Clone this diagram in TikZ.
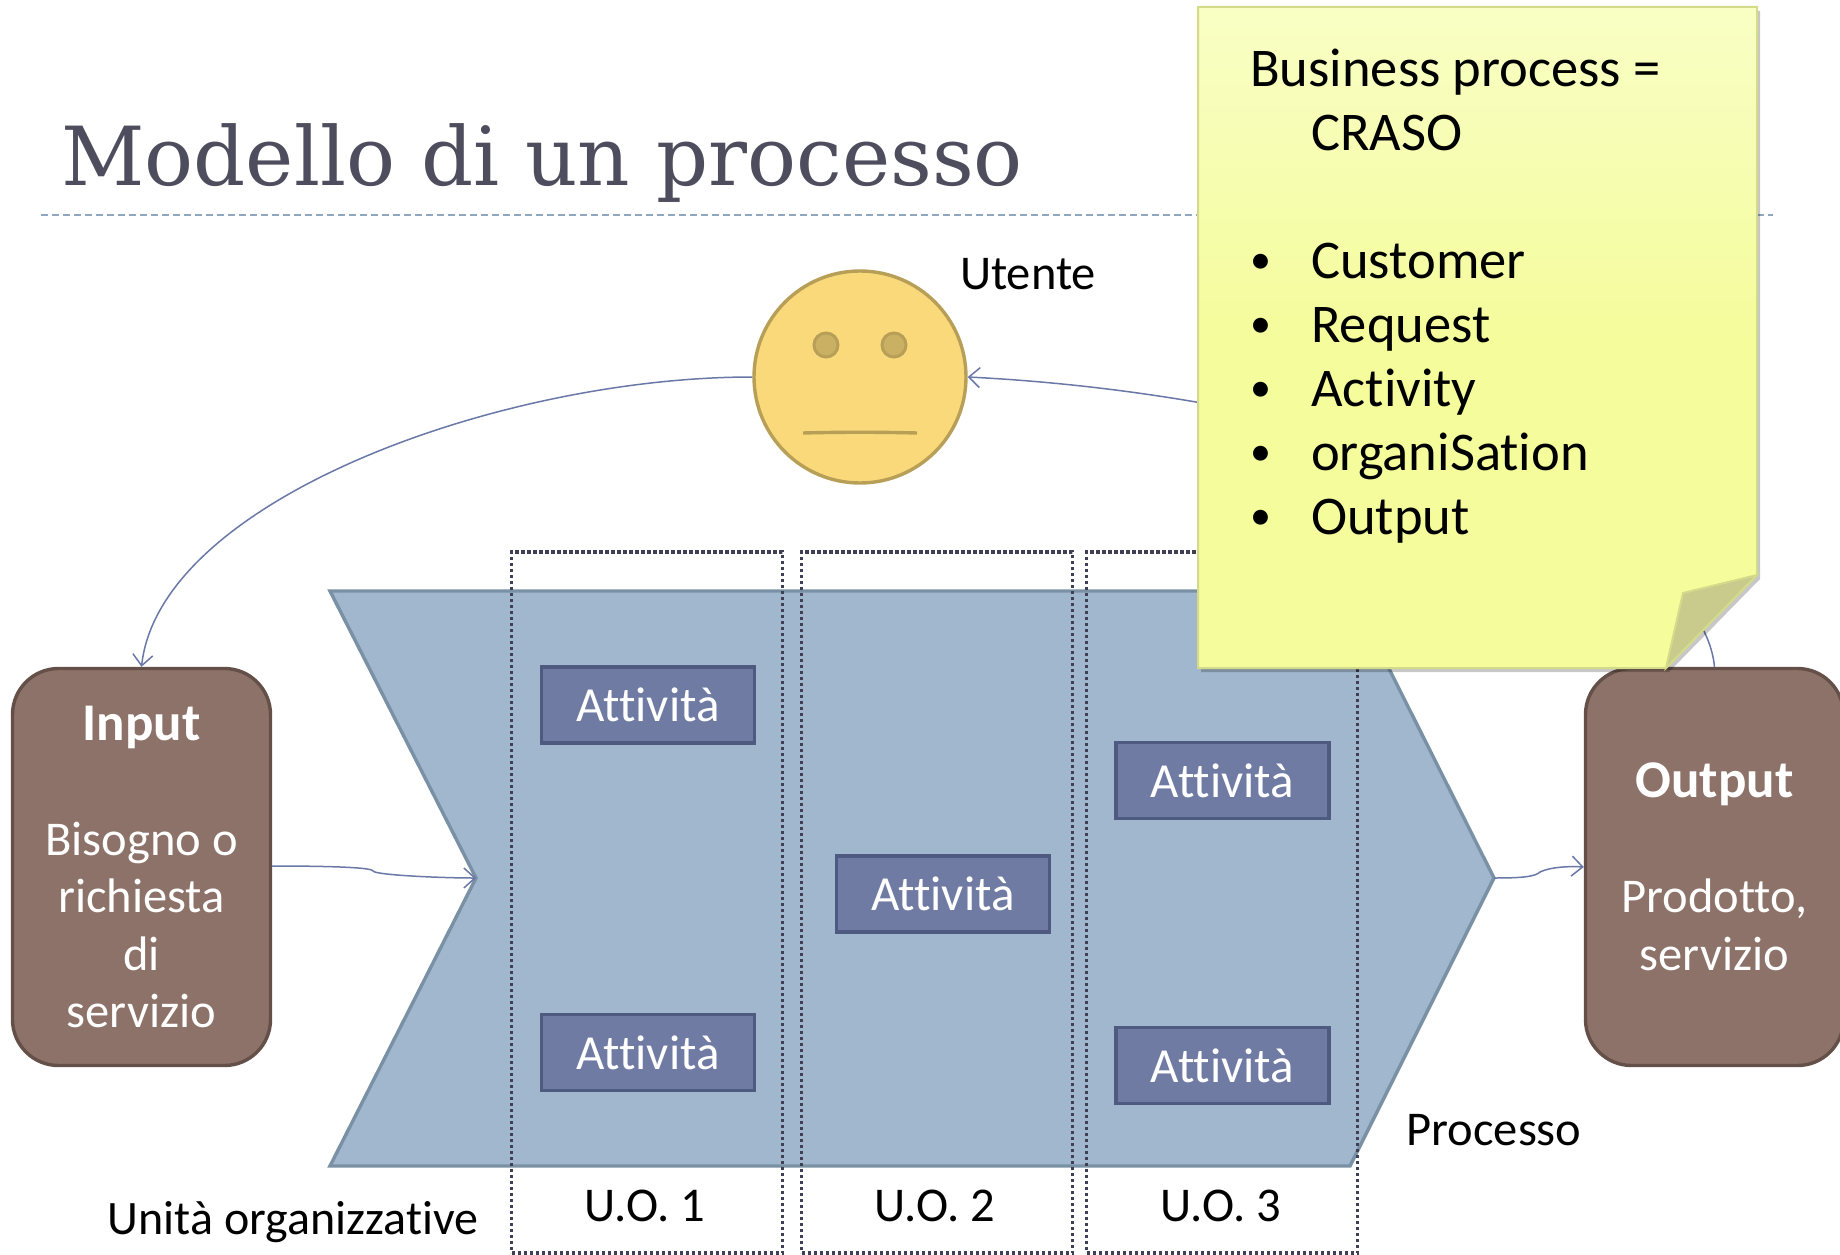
\documentclass[tikz,border=0pt]{standalone}
\usepackage{fontspec}
\setmainfont{Carlito}[Ligatures=NoCommon]
\newfontfamily\titlefont{DejaVu Serif}
\usetikzlibrary{arrows.meta,shapes.geometric,calc}
\definecolor{arrowc}{HTML}{6A78A8}
\definecolor{brownf}{HTML}{8C7268}
\definecolor{brownd}{HTML}{655049}
\definecolor{chevf}{HTML}{A0B7CE}
\definecolor{chevd}{HTML}{7A91A5}
\definecolor{actf}{HTML}{6F7BA3}
\definecolor{actd}{HTML}{4E5A80}
\definecolor{facef}{HTML}{FAD97A}
\definecolor{faced}{HTML}{B89F58}
\definecolor{eyef}{HTML}{C9B062}
\definecolor{notef}{HTML}{F4FC9C}
\definecolor{notel}{HTML}{F9FEC4}
\definecolor{noted}{HTML}{D3DB8A}
\definecolor{foldf}{HTML}{C8CB8C}
\definecolor{titlec}{HTML}{4D4D5E}
\definecolor{rulec}{HTML}{8FA6BE}
\definecolor{dotc}{HTML}{3F3F55}
\newcommand{\bul}{\makebox[61pt][l]{\raisebox{5pt}{\fontsize{42}{42}\selectfont •}}}
\tikzset{
  x=1pt,y=-1pt,
  conn/.style={draw=arrowc,line width=1.5pt},
  arrowed/.style={conn,-{Straight Barb[length=11pt,width=20pt,line width=1.5pt]}},
  brownbox/.style={draw=brownd,fill=brownf,line width=3.4pt,rounded corners=46pt,minimum width=258pt,minimum height=397pt,inner sep=0pt,text=white,align=center,font=\fontsize{48.5}{57.5}\selectfont},
  actbox/.style={draw=actd,fill=actf,line width=3.2pt,minimum width=213pt,minimum height=76pt,inner sep=0pt,text=white,font=\fontsize{49}{52}\selectfont},
  uobox/.style={draw=dotc,line width=3.4pt,dash pattern=on 3.2pt off 2.8pt,minimum width=271pt,minimum height=701pt,inner sep=0pt},
  label/.style={inner sep=0pt,text=black,font=\fontsize{48.5}{52}\selectfont},
  eye/.style={circle,draw=faced,fill=eyef,line width=3pt,minimum size=24pt,inner sep=0pt},
}
\begin{document}
\begin{tikzpicture}
\useasboundingbox (0,0) rectangle (1840,1255);
\node[anchor=base west,inner sep=0pt,text=titlec,font=\titlefont\fontsize{81.5}{90}\selectfont] (title) at (61,185) {Modello di un processo};
\coordinate (ruleL) at (41,215);
\coordinate (ruleR) at (1773,215);
\draw[rulec,line width=1.2pt,dash pattern=on 7pt off 4pt] (ruleL) -- (ruleR);

\node[circle,draw=faced,fill=facef,line width=3.4pt,minimum size=212pt,inner sep=0pt] (face) at (860,377) {};
\node[eye] (eyeL) at (826,345) {};
\node[eye] (eyeR) at (894,345) {};
\coordinate (mouthL) at (803,433);
\coordinate (mouthR) at (917,433);
\draw[faced,line width=3.4pt] (mouthL) .. controls (840,432) and (880,432) .. (mouthR);

\node[brownbox] (input) at (141.500,867) {{\fontsize{53}{57.5}\selectfont\textbf{Input}}\\[57.5pt]Bisogno o\\richiesta\\di\\servizio};
\node[brownbox] (output) at (1714.500,867) {{\fontsize{53}{57.5}\selectfont\textbf{Output}}\\[57.5pt]Prodotto,\\servizio};

\coordinate (A) at (330,591);
\coordinate (B) at (1350,591);
\coordinate (tip) at (1494,878);
\coordinate (C) at (1350,1166);
\coordinate (D) at (330,1166);
\coordinate (notch) at (476,878);
\draw[draw=chevd,fill=chevf,line width=3.4pt] (A) -- (B) -- (tip) -- (C) -- (D) -- (notch) -- cycle;

\node[uobox] (uo1) at (647,902.500) {};
\node[uobox] (uo2) at (937,902.500) {};
\node[uobox] (uo3) at (1222,902.500) {};

\node[actbox] (a1) at (648,705) {\raisebox{-2pt}{Attività}};
\node[actbox] (a2) at (648,1052.500) {\raisebox{-2pt}{Attività}};
\node[actbox] (a3) at (943,894) {\raisebox{-2pt}{Attività}};
\node[actbox] (a4) at (1222.500,780.500) {\raisebox{-2pt}{Attività}};
\node[actbox] (a5) at (1222.500,1065.500) {\raisebox{-2pt}{Attività}};

\draw[arrowed] (face.west) .. controls (500,377) and (160,500) .. (input.north);
\draw[arrowed] (output.north) .. controls (1700,520) and (1330,395) .. (face.east);
\draw[arrowed] (input.east |- 0,866) .. controls (320,866) and (372,867) .. (373,871) .. controls (375,875) and (440,878) .. (notch);
\draw[arrowed] (tip) .. controls (1520,878) and (1535,877) .. (1540,872) .. controls (1550,867) and (1570,866) .. (output.west);

\node[label] (lutente) at (1028,274) {Utente};
\node[label] (lproc) at (1494,1130) {Processo};
\node[label,font=\fontsize{48}{52}\selectfont] (lunita) at (293,1222) {Unità organizzative};
\node[label] (l1) at (645,1206) {U.O. 1};
\node[label] (l2) at (935,1206) {U.O. 2};
\node[label] (l3) at (1221,1206) {U.O. 3};

\coordinate (n1) at (1198,7);
\coordinate (n2) at (1757,7);
\coordinate (n3) at (1757,575);
\coordinate (n4) at (1666,668);
\coordinate (n5) at (1198,668);
\coordinate (nf) at (1683,593);
\fill[black,opacity=.22] ($(n1)+(3,4)$) -- ($(n2)+(3,4)$) -- ($(n3)+(3,4)$) -- ($(n4)+(3,4)$) -- ($(n5)+(3,4)$) -- cycle;
\shade[left color=notel,right color=notef,middle color=notef,shading angle=0] (n1) -- (n2) -- (n3) -- (n4) -- (n5) -- cycle;
\draw[noted,line width=2pt] (n1) -- (n2) -- (n3) -- (n4) -- (n5) -- cycle;
\draw[draw=noted,fill=foldf,line width=2pt] (n3) -- (nf) -- (n4) -- cycle;
\node[anchor=north west,inner sep=0pt,align=left,text=black,font=\fontsize{54.5}{64}\selectfont] (notetext) at (1250,49) {Business process =\\
\makebox[61pt][l]{}CRASO\\
\mbox{}\\
\bul Customer\\
\bul Request\\
\bul Activity\\
\bul organiSation\\
\bul Output};
\end{tikzpicture}
\end{document}
